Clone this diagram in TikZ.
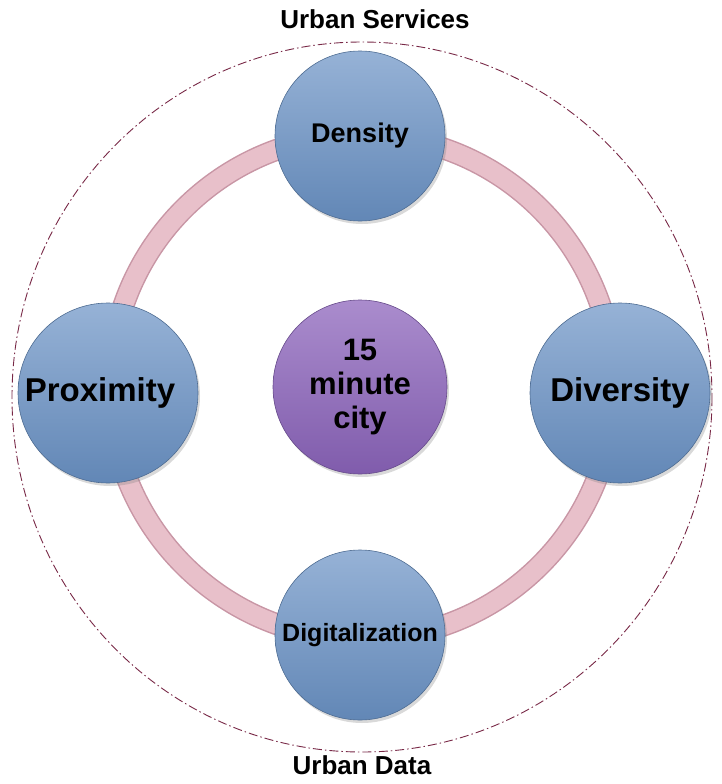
\documentclass[tikz,border=0pt]{standalone}
\usepackage{fontspec}
\setmainfont{Liberation Sans}
\usetikzlibrary{shadows}
\definecolor{bluetop}{RGB}{150,178,214}
\definecolor{bluebot}{RGB}{98,135,182}
\definecolor{purtop}{RGB}{170,140,205}
\definecolor{purbot}{RGB}{128,92,172}
\definecolor{ringc}{RGB}{232,192,202}
\definecolor{ringedge}{RGB}{200,150,165}
\definecolor{dashc}{RGB}{120,40,70}
\begin{document}
\begin{tikzpicture}[x=1pt,y=-1pt,
  bub/.style={circle,draw=bluebot!80!black,line width=0.6pt,top color=bluetop,bottom color=bluebot,minimum size=#1,align=center,drop shadow={opacity=0.3,shadow xshift=2pt,shadow yshift=-3pt}},
  ttl/.style={font=\bfseries\fontsize{26}{30}\selectfont}]
\useasboundingbox (0,0) rectangle (721,784);
\draw[dashc,line width=0.9pt,dash pattern=on 9pt off 3pt on 1.5pt off 3pt] (362,397) ellipse (350 and 355);
\draw[ringedge,line width=22pt] (362,387) circle (252);
\draw[ringc,line width=19pt] (362,387) circle (252);
\node[ttl] (t1) at (375,19) {Urban Services};
\node[ttl] (t2) at (362,765) {Urban Data};
\node[bub=170pt,font=\bfseries\fontsize{27}{30}\selectfont] (den) at (360,136) {Density};
\node[bub=180pt,font=\bfseries\fontsize{33}{36}\selectfont,inner sep=0pt] (prox) at (108,393) {\hspace*{-16pt}Proximity};
\node[bub=180pt,font=\bfseries\fontsize{33}{36}\selectfont,inner sep=0pt] (div) at (620,393) {Diversity};
\node[bub=170pt,font=\bfseries\fontsize{25}{28}\selectfont,inner sep=0pt] (dig) at (360,635) {Digitalization};
\node[circle,draw=purbot!80!black,line width=0.6pt,top color=purtop,bottom color=purbot,minimum size=174pt,inner sep=0pt,font=\bfseries\fontsize{31}{34}\selectfont,align=center,drop shadow={opacity=0.3,shadow xshift=2pt,shadow yshift=-3pt}] (c) at (360,387) {15\\minute\\city};
\end{tikzpicture}
\end{document}
